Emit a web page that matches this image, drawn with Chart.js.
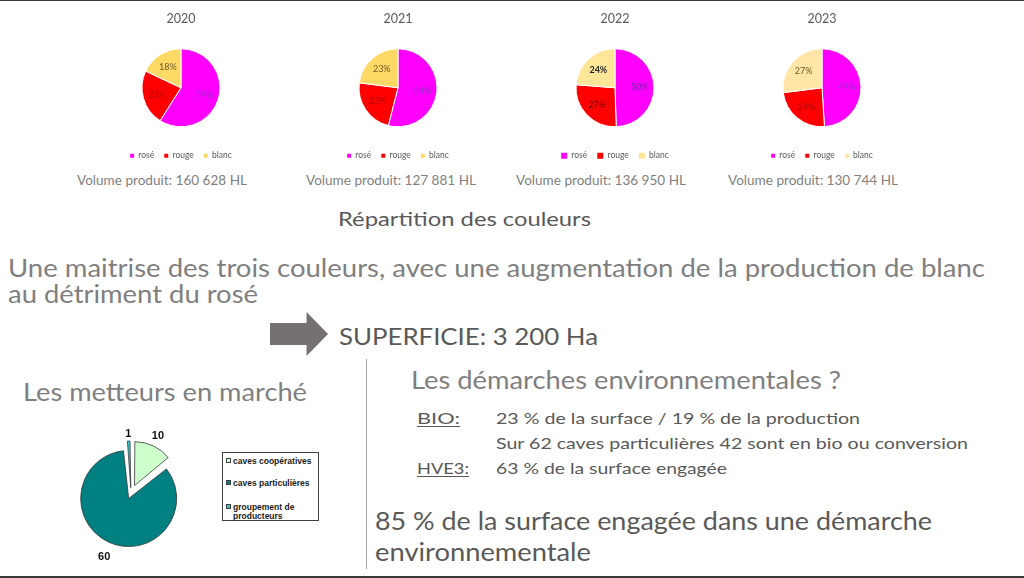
<!DOCTYPE html>
<html><head><meta charset="utf-8">
<script src="https://cdn.jsdelivr.net/npm/chart.js@4.4.0/dist/chart.umd.min.js"></script>
<style>
html,body{margin:0;padding:0;background:#fff;}
#slide{position:relative;width:1024px;height:578px;overflow:hidden;background:#fff;font-family:Lato,'Open Sans',sans-serif;}
.t{position:absolute;white-space:nowrap;line-height:normal;transform-origin:0 0;}
.pie{position:absolute;}
.u{text-decoration:underline;text-underline-offset:2px;}
#legBox{position:absolute;left:222px;top:452px;width:95px;height:67px;border:1px solid #404040;font-family:'Liberation Sans',Arial,sans-serif;font-weight:bold;font-size:8.5px;color:#1a1a1a;}
.lr{position:absolute;left:3px;display:flex;align-items:flex-start;line-height:9px;}
.lm{width:5px;height:5px;border:1px solid #404040;margin:1px 2px 0 0;flex:none;box-sizing:border-box;}
.lt{width:84px;white-space:normal;}
</style></head><body><div id="slide"></div>
<script>
// ---- data ----
const years = ['2020','2021','2022','2023'];
const colorCategories = ['rosé','rouge','blanc'];
const roseShare  = [59,54,50,49];
const rougeShare = [23,23,27,24];
const blancShare = [18,23,24,27];
const volumeHL = [160628,127881,136950,130744];
const metteurCategories = ['caves coopératives','caves particulières','groupement de producteurs'];
const metteurCounts = [10,60,1];

// ---- styles / layout ----
const slide = document.getElementById('slide');
Chart.defaults.font.family = 'Lato';
const pieCenters = [181,397.5,614.5,822];
const blancColors = ['#FFD966','#FFD966','#FFE699','#FFE6A6'];
const volLeft = [77,306,516,728];

function addDiv(css){const d=document.createElement('div');d.style.cssText=css;slide.appendChild(d);return d;}
// borders
addDiv('position:absolute;left:0;top:0;width:1024px;height:1px;background:#3a3a3a');
addDiv('position:absolute;left:0;top:576px;width:1024px;height:2px;background:#3a3a3a');
addDiv('position:absolute;left:366px;top:359px;width:1px;height:210px;background:#a6a6a6');
// arrow
addDiv('position:absolute;left:270px;top:312px;width:58px;height:44px;background:#767171;clip-path:polygon(0 25%,63% 25%,63% 0,100% 50%,63% 100%,63% 75%,0 75%)');

const textEls = [];
function text(s,x,b,w,size,color,cls){
  const d=document.createElement('div');d.className='t'+(cls?' '+cls:'');
  d.textContent=s;d.style.fontSize=size+'px';d.style.color=color;
  slide.appendChild(d);textEls.push({d,x,b,w});return d;
}
text('Répartition des couleurs',338,226,253,18.5,'#595959');
text('Une maitrise des trois couleurs, avec une augmentation de la production de blanc',8,277,977,25,'#7f7f7f');
text('au détriment du rosé',8,303,250,25,'#7f7f7f');
text('SUPERFICIE: 3 200 Ha',339,345,259,24,'#595959');
text('Les metteurs en marché',23,401,284,25,'#7f7f7f');
text('Les démarches environnementales ?',411,389,430,25,'#7f7f7f');
text('BIO:',417,424,43,16,'#595959','u');
text('23 % de la surface  / 19 % de la production',496,424,364,16,'#595959');
text('Sur 62 caves particulières 42 sont en bio ou conversion',496,449,472,16,'#595959');
text('HVE3:',417,474,52,16,'#595959','u');
text('63 % de la surface engagée',496,474,231,16,'#595959');
text('85 % de la surface engagée dans une démarche',375,530,557,25.5,'#595959');
text('environnementale',375,561,216,25.5,'#595959');
const fmt = v => String(v).replace(/\B(?=(\d{3})+(?!\d))/g,' ');
volumeHL.forEach((v,i)=>text('Volume produit: '+fmt(v)+' HL',volLeft[i],185,170,12.5,'#7f7f7f'));

function layoutTexts(){
  textEls.forEach(({d,x,b,w})=>{
    d.style.transform='none';d.style.left=x+'px';d.style.top='0px';
    const p=document.createElement('span');
    p.style.cssText='display:inline-block;width:0;height:0;vertical-align:baseline';
    d.appendChild(p);const off=p.offsetTop;p.remove();
    d.style.top=(b-off)+'px';
    const mw=d.getBoundingClientRect().width;
    d.style.transform='scaleX('+(w/mw)+')';
  });
}

// ---- pie label plugins ----
const pctLabels = {
  id:'pctLabels',
  afterDatasetsDraw(chart,args,opts){
    const ctx=chart.ctx;const meta=chart.getDatasetMeta(0);const data=chart.data.datasets[0].data;
    meta.data.forEach((arc,k)=>{
      const p=arc.getProps(['x','y','startAngle','endAngle','outerRadius'],true);
      const mid=(p.startAngle+p.endAngle)/2;const r=p.outerRadius*opts.ratio;
      ctx.save();ctx.font=(opts.bold?'bold ':'')+opts.size+'px Lato';ctx.fillStyle=opts.colors[k];
      ctx.textAlign='center';ctx.textBaseline='middle';
      ctx.fillText(data[k]+'%',p.x+Math.cos(mid)*r,p.y+Math.sin(mid)*r);ctx.restore();
    });
  }
};
const outLabels = {
  id:'outLabels',
  afterDatasetsDraw(chart,args,opts){
    const ctx=chart.ctx;const meta=chart.getDatasetMeta(0);const data=chart.data.datasets[0].data;
    meta.data.forEach((arc,k)=>{
      const p=arc.getProps(['x','y','startAngle','endAngle','outerRadius'],true);
      const mid=(p.startAngle+p.endAngle)/2;const r=p.outerRadius+opts.gap[k];
      ctx.save();ctx.font='bold 11px "Liberation Sans", Arial';ctx.fillStyle='#111';
      ctx.textAlign='center';ctx.textBaseline='middle';
      ctx.fillText(String(data[k]),p.x+Math.cos(mid)*r,p.y+Math.sin(mid)*r);ctx.restore();
    });
  }
};

// ---- yearly colour pies ----
years.forEach((yr,i)=>{
  const wrap=document.createElement('div');wrap.className='pie';
  wrap.style.cssText='position:absolute;left:'+(pieCenters[i]-80)+'px;top:0;width:160px;height:170px';
  const cv=document.createElement('canvas');cv.width=160;cv.height=170;cv.style.width='160px';cv.style.height='170px';
  wrap.appendChild(cv);slide.appendChild(wrap);
  const bg=['#FF00FF','#FF0000',blancColors[i]];
  const bold = i===2;
  new Chart(cv,{
    type:'pie',
    data:{labels:colorCategories,datasets:[{data:[roseShare[i],rougeShare[i],blancShare[i]],backgroundColor:bg,borderColor:'#ffffff',borderWidth:1,radius:39}]},
    options:{responsive:false,animation:false,layout:{padding:0},events:[],
      plugins:{
        title:{display:true,text:yr,color:'#595959',font:{family:'Lato',size:12.5,weight:'normal'},padding:{top:11,bottom:8}},
        legend:{position:'bottom',labels:{boxWidth:bold?6:4,boxHeight:bold?6:4,padding:10,color:'#595959',font:{family:'Lato',size:8.5},
          generateLabels:(ch)=>ch.data.labels.map((l,k)=>({text:l,fillStyle:bg[k],strokeStyle:bg[k],lineWidth:0,hidden:false,index:k,fontColor:'#595959'}))}},
        tooltip:{enabled:false},
        pctLabels:{ratio:0.63,size:9,bold:bold,colors:bold?['#8E1FB8','#8B0000','#262626']:['#9A2BC8','#B30000','#6B5A2A']}
      }},
    plugins:[pctLabels]
  });
});

// ---- metteurs en marché pie ----
(function(){
  const wrap=document.createElement('div');
  wrap.style.cssText='position:absolute;left:61px;top:423px;width:140px;height:140px';
  const cv=document.createElement('canvas');cv.width=140;cv.height=140;cv.style.width='140px';cv.style.height='140px';
  wrap.appendChild(cv);slide.appendChild(wrap);
  const bg=['#CCFFCC','#008080','#33CCCC'];
  new Chart(cv,{
    type:'pie',
    data:{labels:metteurCategories,datasets:[{data:metteurCounts,backgroundColor:bg,borderColor:'#3a3a3a',borderWidth:0.8,offset:[33,24,21],radius:42}]},
    options:{responsive:false,animation:false,layout:{padding:0},events:[],
      plugins:{legend:{display:false},tooltip:{enabled:false},title:{display:false},outLabels:{gap:[21,27,17]}}},
    plugins:[outLabels]
  });
  const box=document.createElement('div');box.id='legBox';slide.appendChild(box);
  const tops=[4,26,50];
  metteurCategories.forEach((c,k)=>{
    const r=document.createElement('div');r.className='lr';r.style.top=tops[k]+'px';
    const m=document.createElement('div');m.className='lm';m.style.background=bg[k];
    const t=document.createElement('div');t.className='lt';t.textContent=c;
    r.appendChild(m);r.appendChild(t);box.appendChild(r);
  });
})();

layoutTexts();
if(document.fonts&&document.fonts.ready){document.fonts.ready.then(layoutTexts);}
</script>
</body></html>
